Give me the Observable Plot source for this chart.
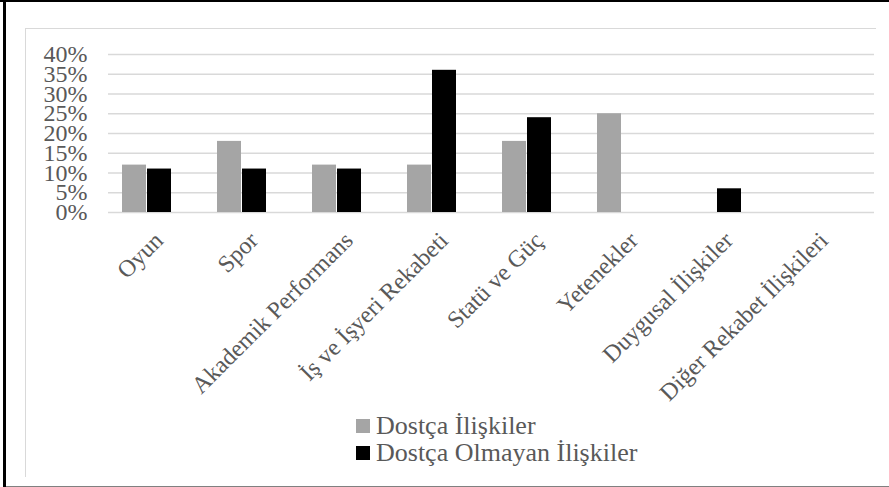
<!DOCTYPE html>
<html><head><meta charset="utf-8">
<script src="https://cdn.jsdelivr.net/npm/d3@7"></script>
<script src="https://cdn.jsdelivr.net/npm/@observablehq/plot@0.6"></script>
<style>
body{margin:0;background:#fff;}
#wrap{position:relative;width:889px;height:487px;overflow:hidden;font-family:"Liberation Serif","Times New Roman",serif;background:#fff;}
.b{position:absolute;}
#chart{position:absolute;left:0;top:0;}
#legend{position:absolute;left:356px;top:413px;font-size:26px;color:#595959;line-height:26.7px;}
#legend .row{display:flex;align-items:center;white-space:nowrap;}
#legend .sw{width:14px;height:14px;margin-right:6px;display:inline-block;}
</style></head><body>
<div id="wrap">
  <div class="b" style="left:0;top:0;width:889px;height:2px;background:#000"></div>
  <div class="b" style="left:3px;top:0;width:3px;height:487px;background:#000"></div>
  <div class="b" style="left:6px;top:486px;width:883px;height:1px;background:#808080"></div>
  <div class="b" style="left:25px;top:28px;width:851px;height:1px;background:#d9d9d9"></div>
  <div class="b" style="left:25px;top:28px;width:1px;height:449px;background:#d9d9d9"></div>
  <div id="chart"></div>
  <div id="legend"></div>
</div>
<script>
const categories = ["Oyun","Spor","Akademik Performans","İş ve İşyeri Rekabeti","Statü ve Güç","Yetenekler","Duygusal İlişkiler","Diğer Rekabet İlişkileri"];
const seriesNames = ["Dostça İlişkiler","Dostça Olmayan İlişkiler"];
const friendly = [12,18,12,12,18,25,0,0];
const unfriendly = [11,11,11,36,24,0,6,0];
const yTicks = [0,5,10,15,20,25,30,35,40];
const colors = ["#a5a5a5","#000000"];

const data = categories.flatMap((c,i)=>[
  {cat:c, s:seriesNames[0], v:friendly[i]},
  {cat:c, s:seriesNames[1], v:unfriendly[i]}
]);

const plot = Plot.plot({
  width: 889, height: 400,
  marginLeft: 108, marginRight: 15, marginTop: 54, marginBottom: 188,
  style: {fontFamily: "'Liberation Serif', 'Times New Roman', serif", fontSize: "24px", color: "#595959", background: "transparent", overflow: "visible"},
  x: {domain: categories, range: [95.3, 863.3], paddingInner: 0.479, paddingOuter: 0.24, axis: null},
  y: {domain: [0, 40], ticks: yTicks, tickSize: 0, tickPadding: 21, tickFormat: d => d + "%", label: null},
  color: {domain: seriesNames, range: colors},
  marks: [
    Plot.ruleY(yTicks, {stroke: "#d9d9d9", strokeWidth: 1.5}),
    Plot.barY(data.filter(d => d.s === seriesNames[0] && d.v > 0), {x: "cat", y: "v", fill: "s", insetRight: 25}),
    Plot.barY(data.filter(d => d.s === seriesNames[1] && d.v > 0), {x: "cat", y: "v", fill: "s", insetLeft: 25}),
    Plot.text(categories, {x: d => d, text: d => d, frameAnchor: "bottom", rotate: -45, textAnchor: "end", lineAnchor: "middle", dx: 12, dy: 24, fontSize: 24, fill: "#595959"})
  ]
});
document.getElementById("chart").appendChild(plot);

const leg = document.getElementById("legend");
seriesNames.forEach((n, i) => {
  const row = document.createElement("div");
  row.className = "row";
  const sw = document.createElement("span");
  sw.className = "sw";
  sw.style.background = colors[i];
  row.appendChild(sw);
  row.appendChild(document.createTextNode(n));
  leg.appendChild(row);
});
</script>
</body></html>
